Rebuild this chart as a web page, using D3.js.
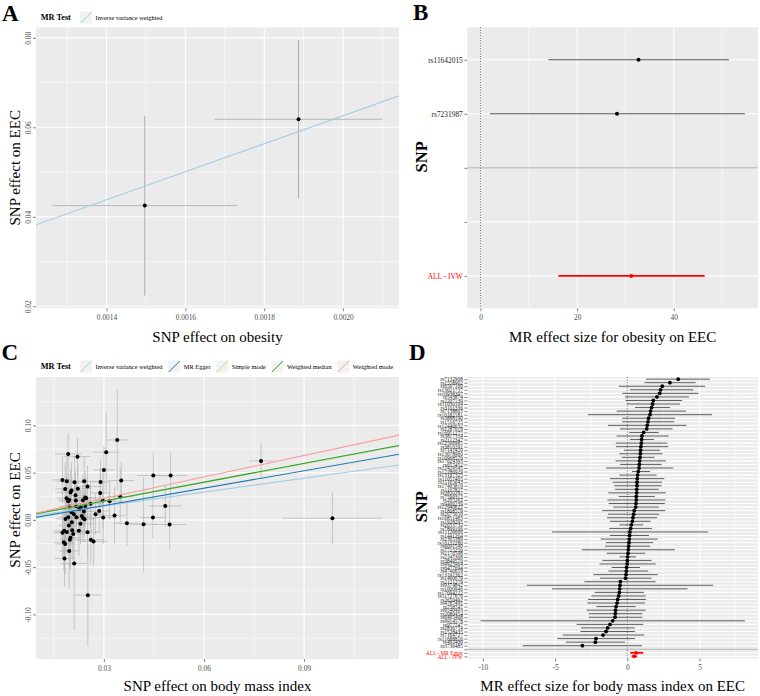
<!DOCTYPE html>
<html>
<head>
<meta charset="utf-8">
<script src="https://cdn.jsdelivr.net/npm/d3@7"></script>
<style>
  body { margin: 0; background: #fff; }
  svg { display: block; }
</style>
</head>
<body>
<svg id="fig" width="760" height="696"></svg>
<script>
const FONT = '"Liberation Serif", "Times New Roman", serif';

// ---- panel A data (obesity -> EEC, scatter) ----
const aBx = [0.001497, 0.001887];
const aBy = [0.0425, 0.0618];
const aSeX = [0.000234, 0.000213];
const aSeY = [0.0201, 0.0177];
const aIvwSlope = 31.3;

// ---- panel B data (obesity forest) ----
const bRows = ["rs11642015", "rs7231987", "", "", "ALL - IVW"];
const bEst = [32.7, 28.25];
const bLo = [14.06, 1.92];
const bHi = [51.4, 54.7];
const bIvw = { est: 31.2, lo: 16.1, hi: 46.4 };

// ---- panel C data (BMI -> EEC, scatter) ----
const cBx = [0.0340, 0.0307, 0.0193, 0.0221, 0.0300, 0.0176, 0.0189, 0.0212, 0.0241, 0.0290,
  0.0352, 0.0448, 0.0500, 0.0251, 0.0184, 0.0203, 0.0200, 0.0289, 0.0349, 0.0244,
  0.0247, 0.0196, 0.0193, 0.0216, 0.0237, 0.0297, 0.0317, 0.0217, 0.0231, 0.0244,
  0.0197, 0.0484, 0.0286, 0.0203, 0.0193, 0.0218, 0.0234, 0.0238, 0.0242, 0.0332,
  0.0298, 0.0447, 0.0369, 0.0419, 0.0497, 0.0204, 0.0181, 0.0176, 0.0189, 0.0205,
  0.0225, 0.0251, 0.0200, 0.0198, 0.0180, 0.0184, 0.0261, 0.0269, 0.0196, 0.0182,
  0.0211, 0.0252, 0.0771, 0.0985, 0.0210, 0.0226, 0.0185, 0.0230, 0.0215, 0.0260,
  0.0195, 0.0240, 0.0208, 0.0222, 0.0188, 0.0275];
const cBy = [0.0846, 0.0716, 0.0698, 0.0669, 0.0529, 0.0423, 0.0409, 0.0398, 0.0409, 0.0402,
  0.0416, 0.0469, 0.0469, 0.0352, 0.0328, 0.0310, 0.0289, 0.0285, 0.0246, 0.0236,
  0.0229, 0.0211, 0.0198, 0.0204, 0.0208, 0.0204, 0.0198, 0.0148, 0.0134, 0.0148,
  0.0141, 0.0148, 0.0095, 0.0081, 0.0028, 0.0028, 0.0042, 0.0018, 0.0007, 0.0046,
  0.0025, 0.0025, -0.0035, -0.0046, -0.0049, -0.0025, -0.0116, -0.0137, -0.0127, -0.0109,
  -0.0116, -0.0130, -0.0190, -0.0211, -0.0236, -0.0254, -0.0211, -0.0229, -0.0328, -0.0409,
  -0.0462, -0.0796, 0.0624, 0.0018, 0.0060, 0.0115, 0.0010, -0.0040, 0.0260, 0.0170,
  -0.0060, 0.0090, -0.0150, 0.0330, 0.0230, 0.0060];
const cSeX = [0.0033, 0.004, 0.004, 0.004, 0.003, 0.003, 0.003, 0.004, 0.004, 0.003,
  0.004, 0.005, 0.005, 0.004, 0.003, 0.003, 0.004, 0.003, 0.004, 0.003,
  0.004, 0.003, 0.003, 0.004, 0.004, 0.003, 0.004, 0.004, 0.003, 0.003,
  0.003, 0.005, 0.003, 0.003, 0.003, 0.004, 0.003, 0.004, 0.003, 0.003,
  0.004, 0.004, 0.004, 0.004, 0.005, 0.003, 0.003, 0.003, 0.003, 0.003,
  0.004, 0.004, 0.003, 0.003, 0.003, 0.003, 0.004, 0.004, 0.003, 0.003,
  0.004, 0.004, 0.0036, 0.015, 0.003, 0.003, 0.003, 0.004, 0.003, 0.004,
  0.003, 0.003, 0.003, 0.004, 0.003, 0.003];
const cSeY = [0.053, 0.042, 0.022, 0.020, 0.025, 0.025, 0.030, 0.028, 0.026, 0.024,
  0.020, 0.025, 0.025, 0.022, 0.028, 0.030, 0.025, 0.026, 0.030, 0.028,
  0.022, 0.024, 0.030, 0.022, 0.026, 0.030, 0.020, 0.024, 0.018, 0.022,
  0.020, 0.022, 0.022, 0.018, 0.022, 0.016, 0.020, 0.024, 0.018, 0.030,
  0.028, 0.022, 0.024, 0.050, 0.026, 0.020, 0.024, 0.028, 0.024, 0.030,
  0.026, 0.028, 0.034, 0.030, 0.030, 0.032, 0.026, 0.026, 0.040, 0.030,
  0.070, 0.054, 0.019, 0.028, 0.020, 0.022, 0.024, 0.022, 0.026, 0.024,
  0.026, 0.020, 0.028, 0.026, 0.024, 0.022];
const cMethods = ["Inverse variance weighted", "MR Egger", "Simple mode", "Weighted median", "Weighted mode"];
const cSlopes = [0.49, 0.614, 0.66, 0.665, 0.757];
const cIntercepts = [0, -0.0033, 0, 0, 0];
const methodColors = ["#a6cee3", "#1f78b4", "#b2df8a", "#33a02c", "#fb9a99"];

// ---- panel D data (BMI forest, sorted) ----
const dSnps = ["rs7132908", "rs1558902", "rs6567160", "rs13021737", "rs10938397", "rs543874", "rs2207139", "rs11030104",
  "rs3101336", "rs7138803", "rs10182181", "rs3888190", "rs1516725", "rs12446632", "rs2287019", "rs16951275",
  "rs3817334", "rs2112347", "rs12566985", "rs3810291", "rs7141420", "rs13078960", "rs10968576", "rs17024393",
  "rs657452", "rs12429545", "rs12286929", "rs13107325", "rs11057405", "rs11165643", "rs17405819", "rs1167827",
  "rs2820292", "rs7599312", "rs205262", "rs9400239", "rs12940622", "rs1808579", "rs2075650", "rs16851483",
  "rs1928295", "rs2033732", "rs7899106", "rs11126666", "rs1441264", "rs2365389", "rs10132280", "rs6091540",
  "rs7715256", "rs2176598", "rs2245368", "rs3849570", "rs9925964", "rs6477694", "rs4740619", "rs13191362",
  "rs1460676", "rs2121279", "rs9374842", "rs1000940", "rs17094222", "rs11727676", "rs2650492", "rs4787491",
  "rs758747", "rs9540493", "rs2080454", "rs6465468", "rs9914578", "rs977747", "rs2836754", "rs1528435",
  "rs7164727", "rs11688816", "rs492400", "rs3736485"];
const dEst = [3.52, 2.95, 2.42, 2.30, 2.24, 2.05, 1.80, 1.75, 1.68, 1.61, 1.57, 1.47, 1.43, 1.38, 1.34, 1.13,
  1.01, 0.99, 0.97, 0.94, 0.92, 0.90, 0.88, 0.85, 0.83, 0.81,
  0.76, 0.71, 0.69, 0.67, 0.67, 0.65, 0.65, 0.62, 0.62, 0.60, 0.58, 0.48, 0.44, 0.39, 0.35, 0.28,
  0.23, 0.18, 0.16, 0.14, 0.12, 0.09, 0.07, 0.05, 0.02, 0.00,
  -0.01, -0.05, -0.07, -0.09, -0.12, -0.48, -0.51, -0.53, -0.55, -0.60, -0.67, -0.71, -0.78, -0.81,
  -0.83, -0.85, -1.01, -1.20, -1.36, -1.47, -1.68, -2.17, -2.21, -3.11];
const dLo = [1.29, 1.18, -0.58, 0.18, -0.35, -0.16, -0.12, -0.05, 0.53, -0.74, -2.72, -0.35, -0.35, -1.34, -0.5, 0.14,
  -0.74, 0.18, -0.8, -0.78, -0.23, -0.55, -0.39, -0.81, -0.5, -1.47,
  0.32, -0.55, -1.2, -1.01, -0.9, -0.85, -1.31, -0.6, -1.38, -1.29, -0.97, -1.73, -1.34, -1.41, -1.2, -0.55,
  -1.24, -5.21, -1.2, -1.84, -1.47, -1.54, -3.16, -1.43, -0.55, -1.73,
  -1.93, -1.08, -1.31, -2.35, -1.89, -2.97, -6.96, -5.21, -2.26, -2.49, -2.72, -2.76, -2.14, -2.81,
  -2.67, -2.67, -10.16, -3.5, -3.2, -3.25, -4.47, -4.84, -4.26, -7.24];
const dHi = [5.71, 4.72, 5.39, 4.56, 4.93, 4.26, 3.80, 3.64, 2.95, 4.06, 5.85, 3.29, 3.25, 4.1, 3.13, 2.17,
  2.86, 1.84, 2.76, 2.83, 2.26, 2.42, 1.89, 2.67, 2.37, 3.18,
  1.57, 2.03, 2.56, 2.40, 2.37, 2.17, 2.67, 1.91, 2.63, 2.6, 2.19, 2.63, 2.21, 2.07, 1.61, 1.11,
  1.71, 5.58, 1.5, 2.1, 1.8, 1.59, 3.29, 1.24, 0.6, 1.68,
  1.96, 0.88, 1.45, 2.1, 1.68, 1.96, 5.94, 4.17, 1.15, 1.27, 1.29, 1.22, 0.58, 1.27,
  1.04, 1.04, 8.13, 1.1, 0.51, 0.53, 1.18, 0.53, -0.16, 1.01];
const dAllLabels = ["ALL - MR Egger", "ALL - IVW"];
const dAllEst = [0.60, 0.47];
const dAllLo = [0.20, 0.30];
const dAllHi = [1.10, 0.68];

// layout
const boxA = { x: 36, y: 27.3, w: 363, h: 281 };
const boxB = { x: 467.3, y: 27.3, w: 290.7, h: 281 };
const boxC = { x: 36, y: 377, w: 363, h: 282 };
const boxD = { x: 467.3, y: 377, w: 290.7, h: 281.5 };

const svg = d3.select("#fig").style("font-family", FONT);

const expand = (lo, hi) => { const d = (hi - lo) * 0.05; return [lo - d, hi + d]; };

function styleAxis(sel) {
  sel.attr("font-family", FONT).attr("font-size", 7.4);
  sel.select(".domain").remove();
  sel.selectAll(".tick line").attr("stroke", "#333").attr("stroke-width", 0.6);
  sel.selectAll(".tick text").attr("fill", "#4d4d4d");
}

// grey panel with white grid
function panel(box, xs, xMajor, xMinor, ys, yMajor, yMinor) {
  const g = svg.append("g");
  g.append("rect").attr("x", box.x).attr("y", box.y).attr("width", box.w).attr("height", box.h).attr("fill", "#ebebeb");
  g.selectAll(".vmin").data(xMinor).join("line")
    .attr("x1", xs).attr("x2", xs).attr("y1", box.y).attr("y2", box.y + box.h)
    .attr("stroke", "#fff").attr("stroke-width", 0.5);
  g.selectAll(".hmin").data(yMinor).join("line")
    .attr("y1", ys).attr("y2", ys).attr("x1", box.x).attr("x2", box.x + box.w)
    .attr("stroke", "#fff").attr("stroke-width", 0.5);
  g.selectAll(".vmaj").data(xMajor).join("line")
    .attr("x1", xs).attr("x2", xs).attr("y1", box.y).attr("y2", box.y + box.h)
    .attr("stroke", "#fff").attr("stroke-width", 1.1);
  g.selectAll(".hmaj").data(yMajor).join("line")
    .attr("y1", ys).attr("y2", ys).attr("x1", box.x).attr("x2", box.x + box.w)
    .attr("stroke", "#fff").attr("stroke-width", 1.1);
  return g;
}

function clip(id, box) {
  svg.append("clipPath").attr("id", id).append("rect")
    .attr("x", box.x).attr("y", box.y).attr("width", box.w).attr("height", box.h);
}

function xAxis(box, xs, ticks, fmt) {
  svg.append("g").attr("transform", `translate(0,${box.y + box.h})`)
    .call(d3.axisBottom(xs).tickValues(ticks).tickFormat(fmt).tickSize(3).tickPadding(3.5))
    .call(styleAxis);
}

function yAxisRotated(box, ys, ticks, fmt) {
  const a = svg.append("g").attr("transform", `translate(${box.x},0)`)
    .call(d3.axisLeft(ys).tickValues(ticks).tickFormat(fmt).tickSize(3))
    .call(styleAxis);
  a.selectAll(".tick text").attr("transform", "rotate(-90)")
    .attr("x", 0).attr("y", -5).attr("dy", 0).attr("text-anchor", "middle");
}

function letter(t, x, y) {
  svg.append("text").attr("x", x).attr("y", y).attr("font-size", 23).attr("font-weight", "bold").text(t);
}

function xTitle(t, box, y) {
  svg.append("text").attr("x", box.x + box.w / 2).attr("y", y).attr("text-anchor", "middle")
    .attr("font-size", 15).text(t);
}

function yTitle(t, x, cy, bold) {
  svg.append("text").attr("transform", `translate(${x},${cy}) rotate(-90)`).attr("text-anchor", "middle")
    .attr("font-size", bold ? 16.5 : 15).attr("font-weight", bold ? "bold" : "normal").text(t);
}

function legend(x0, y, names, colors) {
  const g = svg.append("g");
  g.append("text").attr("x", x0).attr("y", y + 2.3).attr("font-size", 8.3).attr("font-weight", "bold").text("MR Test");
  let x = 80;
  names.forEach((n, i) => {
    g.append("rect").attr("x", x).attr("y", y - 6).attr("width", 12).attr("height", 12).attr("fill", "#f2f2f2");
    g.append("line").attr("x1", x + 0.5).attr("y1", y + 5.5).attr("x2", x + 11.5).attr("y2", y - 5.5)
      .attr("stroke", colors[i]).attr("stroke-width", 1);
    const t = g.append("text").attr("x", x + 15.5).attr("y", y + 2).attr("font-size", 6.4).text(n);
    x += 15.5 + t.node().getComputedTextLength() + 5.7;
  });
}

// ================= Panel A =================
{
  const xs = d3.scaleLinear()
    .domain(expand(d3.min(aBx, (v, i) => v - aSeX[i]), d3.max(aBx, (v, i) => v + aSeX[i])))
    .range([boxA.x, boxA.x + boxA.w]);
  const ys = d3.scaleLinear()
    .domain(expand(d3.min(aBy, (v, i) => v - aSeY[i]), d3.max(aBy, (v, i) => v + aSeY[i])))
    .range([boxA.y + boxA.h, boxA.y]);
  const xMaj = [0.0014, 0.0016, 0.0018, 0.0020];
  const yMaj = [0.02, 0.04, 0.06, 0.08];
  panel(boxA, xs, xMaj, [0.0013, 0.0015, 0.0017, 0.0019, 0.0021], ys, yMaj, [0.03, 0.05, 0.07]);
  clip("clipA", boxA);
  const g = svg.append("g").attr("clip-path", "url(#clipA)");
  g.selectAll(".ev").data(aBx).join("line")
    .attr("x1", d => xs(d)).attr("x2", d => xs(d))
    .attr("y1", (d, i) => ys(aBy[i] - aSeY[i])).attr("y2", (d, i) => ys(aBy[i] + aSeY[i]))
    .attr("stroke", "#999").attr("stroke-width", 0.8);
  g.selectAll(".eh").data(aBx).join("line")
    .attr("x1", (d, i) => xs(d - aSeX[i])).attr("x2", (d, i) => xs(d + aSeX[i]))
    .attr("y1", (d, i) => ys(aBy[i])).attr("y2", (d, i) => ys(aBy[i]))
    .attr("stroke", "#aaa").attr("stroke-width", 0.8);
  g.selectAll(".pt").data(aBx).join("circle")
    .attr("cx", d => xs(d)).attr("cy", (d, i) => ys(aBy[i])).attr("r", 2).attr("fill", "#000");
  const [x0, x1] = xs.domain();
  g.append("line").attr("x1", xs(x0)).attr("y1", ys(x0 * aIvwSlope)).attr("x2", xs(x1)).attr("y2", ys(x1 * aIvwSlope))
    .attr("stroke", methodColors[0]).attr("stroke-width", 1.1);
  xAxis(boxA, xs, xMaj, d3.format(".4f"));
  yAxisRotated(boxA, ys, yMaj, d => d.toFixed(2));
  legend(40.7, 17.5, [cMethods[0]], [methodColors[0]]);
  letter("A", 2, 20.5);
  xTitle("SNP effect on obesity", boxA, 341.5);
  yTitle("SNP effect on EEC", 19.5, boxA.y + boxA.h / 2);
}

// ================= Panel B =================
{
  const xs = d3.scaleLinear()
    .domain(expand(Math.min(0, d3.min(bLo)), d3.max(bHi)))
    .range([boxB.x, boxB.x + boxB.w]);
  const ys = d3.scalePoint().domain(d3.range(bRows.length)).range([boxB.y, boxB.y + boxB.h]).padding(0.6);
  panel(boxB, xs, [0, 20, 40], [10, 30, 50], ys, d3.range(bRows.length), []);
  // separator
  svg.append("line").attr("x1", boxB.x).attr("x2", boxB.x + boxB.w).attr("y1", ys(2)).attr("y2", ys(2))
    .attr("stroke", "#9a9a9a").attr("stroke-width", 0.8);
  svg.append("line").attr("x1", xs(0)).attr("x2", xs(0)).attr("y1", boxB.y).attr("y2", boxB.y + boxB.h)
    .attr("stroke", "#222").attr("stroke-width", 0.7).attr("stroke-dasharray", "1,1.6");
  const g = svg.append("g");
  g.selectAll(".ci").data(bEst).join("line")
    .attr("x1", (d, i) => xs(bLo[i])).attr("x2", (d, i) => xs(bHi[i]))
    .attr("y1", (d, i) => ys(i)).attr("y2", (d, i) => ys(i))
    .attr("stroke", "#444").attr("stroke-width", 0.9);
  g.selectAll(".pt").data(bEst).join("circle")
    .attr("cx", d => xs(d)).attr("cy", (d, i) => ys(i)).attr("r", 2).attr("fill", "#000");
  g.append("line").attr("x1", xs(bIvw.lo)).attr("x2", xs(bIvw.hi)).attr("y1", ys(4)).attr("y2", ys(4))
    .attr("stroke", "#ff0000").attr("stroke-width", 1.8);
  g.append("circle").attr("cx", xs(bIvw.est)).attr("cy", ys(4)).attr("r", 2).attr("fill", "#ff0000");
  xAxis(boxB, xs, [0, 20, 40], d => String(d));
  const ax = svg.append("g").attr("transform", `translate(${boxB.x},0)`)
    .call(d3.axisLeft(ys).tickFormat(i => bRows[i]).tickSize(3).tickPadding(1.5))
    .call(styleAxis);
  ax.selectAll(".tick text").attr("fill", i => i === 4 ? "#ff0000" : "#1a1a1a");
  letter("B", 413, 20);
  xTitle("MR effect size for obesity on EEC", boxB, 341.5);
  yTitle("SNP", 427, boxB.y + boxB.h / 2 - 11, true);
}

// ================= Panel C =================
{
  const xs = d3.scaleLinear()
    .domain(expand(d3.min(cBx, (v, i) => v - cSeX[i]), d3.max(cBx, (v, i) => v + cSeX[i])))
    .range([boxC.x, boxC.x + boxC.w]);
  const ys = d3.scaleLinear()
    .domain(expand(d3.min(cBy, (v, i) => v - cSeY[i]), d3.max(cBy, (v, i) => v + cSeY[i])))
    .range([boxC.y + boxC.h, boxC.y]);
  const xMaj = [0.03, 0.06, 0.09];
  const yMaj = [-0.10, -0.05, 0, 0.05, 0.10];
  panel(boxC, xs, xMaj, [0.015, 0.045, 0.075, 0.105], ys, yMaj, [-0.125, -0.075, -0.025, 0.025, 0.075, 0.125]);
  clip("clipC", boxC);
  const g = svg.append("g").attr("clip-path", "url(#clipC)");
  g.selectAll(".ev").data(cBx).join("line")
    .attr("x1", d => xs(d)).attr("x2", d => xs(d))
    .attr("y1", (d, i) => ys(cBy[i] - cSeY[i])).attr("y2", (d, i) => ys(cBy[i] + cSeY[i]))
    .attr("stroke", "#b4b4b4").attr("stroke-width", 0.7);
  g.selectAll(".eh").data(cBx).join("line")
    .attr("x1", (d, i) => xs(d - cSeX[i])).attr("x2", (d, i) => xs(d + cSeX[i]))
    .attr("y1", (d, i) => ys(cBy[i])).attr("y2", (d, i) => ys(cBy[i]))
    .attr("stroke", "#b4b4b4").attr("stroke-width", 0.7);
  g.selectAll(".pt").data(cBx).join("circle")
    .attr("cx", d => xs(d)).attr("cy", (d, i) => ys(cBy[i])).attr("r", 2).attr("fill", "#000");
  const [x0, x1] = xs.domain();
  g.selectAll(".fit").data(cSlopes).join("line")
    .attr("x1", xs(x0)).attr("x2", xs(x1))
    .attr("y1", (s, i) => ys(cIntercepts[i] + s * x0)).attr("y2", (s, i) => ys(cIntercepts[i] + s * x1))
    .attr("stroke", (s, i) => methodColors[i]).attr("stroke-width", 1.1);
  xAxis(boxC, xs, xMaj, d => d.toFixed(2));
  yAxisRotated(boxC, ys, yMaj, d => d.toFixed(2));
  legend(40.7, 366.5, cMethods, methodColors);
  letter("C", 1.5, 360);
  xTitle("SNP effect on body mass index", boxC, 691);
  yTitle("SNP effect on EEC", 19.5, boxC.y + boxC.h / 2 - 8);
}

// ================= Panel D =================
{
  const rows = dSnps.concat([""], dAllLabels);
  const nSnp = dSnps.length;
  const xs = d3.scaleLinear()
    .domain(expand(Math.min(0, d3.min(dLo.concat(dAllLo))), d3.max(dHi.concat(dAllHi))))
    .range([boxD.x, boxD.x + boxD.w]);
  const ys = d3.scalePoint().domain(d3.range(rows.length)).range([boxD.y, boxD.y + boxD.h]).padding(0.6);
  panel(boxD, xs, [-10, -5, 0, 5], [-7.5, -2.5, 2.5, 7.5], ys, d3.range(rows.length), []);
  svg.append("line").attr("x1", boxD.x).attr("x2", boxD.x + boxD.w).attr("y1", ys(nSnp)).attr("y2", ys(nSnp))
    .attr("stroke", "#9a9a9a").attr("stroke-width", 0.8);
  svg.append("line").attr("x1", xs(0)).attr("x2", xs(0)).attr("y1", boxD.y).attr("y2", boxD.y + boxD.h)
    .attr("stroke", "#222").attr("stroke-width", 0.7).attr("stroke-dasharray", "1,1.6");
  const g = svg.append("g");
  g.selectAll(".ci").data(dEst).join("line")
    .attr("x1", (d, i) => xs(dLo[i])).attr("x2", (d, i) => xs(dHi[i]))
    .attr("y1", (d, i) => ys(i)).attr("y2", (d, i) => ys(i))
    .attr("stroke", "#4a4a4a").attr("stroke-width", 0.9);
  g.selectAll(".pt").data(dEst).join("circle")
    .attr("cx", d => xs(d)).attr("cy", (d, i) => ys(i)).attr("r", 1.9).attr("fill", "#000");
  g.selectAll(".all").data(dAllEst).join("line")
    .attr("x1", (d, i) => xs(dAllLo[i])).attr("x2", (d, i) => xs(dAllHi[i]))
    .attr("y1", (d, i) => ys(nSnp + 1 + i)).attr("y2", (d, i) => ys(nSnp + 1 + i))
    .attr("stroke", "#ff0000").attr("stroke-width", 1.8);
  g.selectAll(".allpt").data(dAllEst).join("circle")
    .attr("cx", d => xs(d)).attr("cy", (d, i) => ys(nSnp + 1 + i)).attr("r", 1.9).attr("fill", "#ff0000");
  xAxis(boxD, xs, [-10, -5, 0, 5], d => String(d));
  const ax = svg.append("g").attr("transform", `translate(${boxD.x},0)`)
    .call(d3.axisLeft(ys).tickFormat(i => rows[i]).tickSize(3).tickPadding(1.5))
    .call(styleAxis);
  ax.attr("font-size", 5.3);
  ax.selectAll(".tick text").attr("fill", i => i > nSnp ? "#ff0000" : "#1a1a1a");
  letter("D", 409, 360);
  xTitle("MR effect size for body mass index on EEC", boxD, 691);
  yTitle("SNP", 427, boxD.y + boxD.h / 2 - 11, true);
}
</script>
</body>
</html>
